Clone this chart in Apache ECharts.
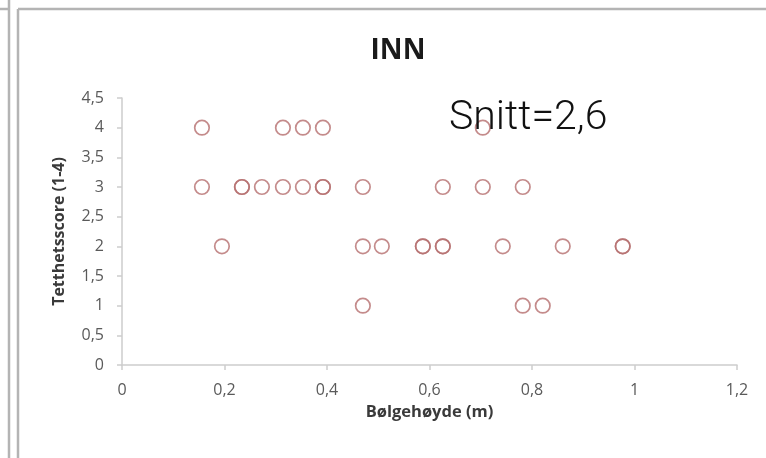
<!DOCTYPE html>
<html>
<head>
<meta charset="utf-8">
<script src="https://cdn.jsdelivr.net/npm/echarts@6/dist/echarts.min.js"></script>
<style>html,body{margin:0;padding:0;background:#fff}#c{width:766px;height:458px}</style>
</head>
<body>
<div id="c"></div>
<script>
// Data: wave height (m) and density score
var score4 = [0.156, 0.314, 0.353, 0.392, 0.704];
var score3 = [0.156, 0.234, 0.234, 0.273, 0.314, 0.353, 0.392, 0.392, 0.470, 0.626, 0.704, 0.782];
var score2 = [0.195, 0.470, 0.507, 0.587, 0.587, 0.626, 0.626, 0.743, 0.860, 0.977, 0.977];
var score1 = [0.470, 0.782, 0.821];
var xTicks = [0, 0.2, 0.4, 0.6, 0.8, 1, 1.2];
var yTicks = [0, 0.5, 1, 1.5, 2, 2.5, 3, 3.5, 4, 4.5];
var titleText = 'INN';
var noteText = 'Snitt=2,6';
var xName = 'Bølgehøyde (m)';
var yName = 'Tetthetsscore (1-4)';

var points = [];
[[4, score4], [3, score3], [2, score2], [1, score1]].forEach(function (g) {
  g[1].forEach(function (x) { points.push([x, g[0]]); });
});

function fmt(v) { return String(v).replace('.', ','); }

var chart = echarts.init(document.getElementById('c'), null, {renderer: 'canvas'});
var axisGray = '#cdcdcd';
var labelGray = '#5a5a5a';
chart.setOption({
  animation: false,
  backgroundColor: '#fff',
  grid: {left: 122, right: 29, top: 98, bottom: 93, containLabel: false},
  xAxis: {
    type: 'value', min: xTicks[0], max: xTicks[xTicks.length - 1], interval: 0.2,
    name: xName, nameLocation: 'middle', nameGap: 39,
    nameTextStyle: {fontFamily: 'Open Sans', fontWeight: 'bold', fontSize: 16.5, color: '#3a3a3a'},
    axisLine: {show: true, lineStyle: {color: axisGray, width: 1.5}},
    axisTick: {show: true, length: 5, lineStyle: {color: axisGray, width: 1.5}},
    splitLine: {show: false},
    axisLabel: {formatter: fmt, margin: 17, fontFamily: 'Open Sans', fontSize: 16, color: labelGray}
  },
  yAxis: {
    type: 'value', min: yTicks[0], max: yTicks[yTicks.length - 1], interval: 0.5,
    name: yName, nameLocation: 'middle', nameGap: 55, nameRotate: 90,
    nameTextStyle: {fontFamily: 'Open Sans', fontWeight: 'bold', fontSize: 16, color: '#3a3a3a'},
    axisLine: {show: true, lineStyle: {color: axisGray, width: 1.5}},
    axisTick: {show: true, length: 5, lineStyle: {color: axisGray, width: 1.5}},
    splitLine: {show: false},
    axisLabel: {formatter: fmt, margin: 18, fontFamily: 'Open Sans', fontSize: 16, color: labelGray}
  },
  series: [{
    type: 'scatter',
    data: points,
    symbol: 'circle',
    symbolSize: 14.5,
    itemStyle: {color: 'rgba(255,255,255,0)', borderColor: '#b56e6e', borderWidth: 1.7}
  }],
  graphic: [
    {type: 'line', shape: {x1: 9, y1: 0, x2: 9, y2: 458}, style: {stroke: '#b4b4b4', lineWidth: 2.5}},
    {type: 'line', shape: {x1: 0, y1: 9, x2: 9, y2: 9}, style: {stroke: '#b4b4b4', lineWidth: 2.5}},
    {type: 'line', shape: {x1: 18, y1: 9, x2: 18, y2: 458}, style: {stroke: '#b4b4b4', lineWidth: 2.5}},
    {type: 'line', shape: {x1: 18, y1: 9, x2: 766, y2: 9}, style: {stroke: '#b4b4b4', lineWidth: 2.5}},
    {type: 'text', x: 398, y: 51, style: {text: titleText, textAlign: 'center', textVerticalAlign: 'middle',
      font: 'bold 28px "Open Sans"', fill: '#1a1a1a'}},
    {type: 'text', x: 449, y: 119, z: 10, style: {text: noteText, textAlign: 'left', textVerticalAlign: 'middle',
      font: '300 41px Roboto', fill: '#111'}}
  ]
});
</script>
</body>
</html>
